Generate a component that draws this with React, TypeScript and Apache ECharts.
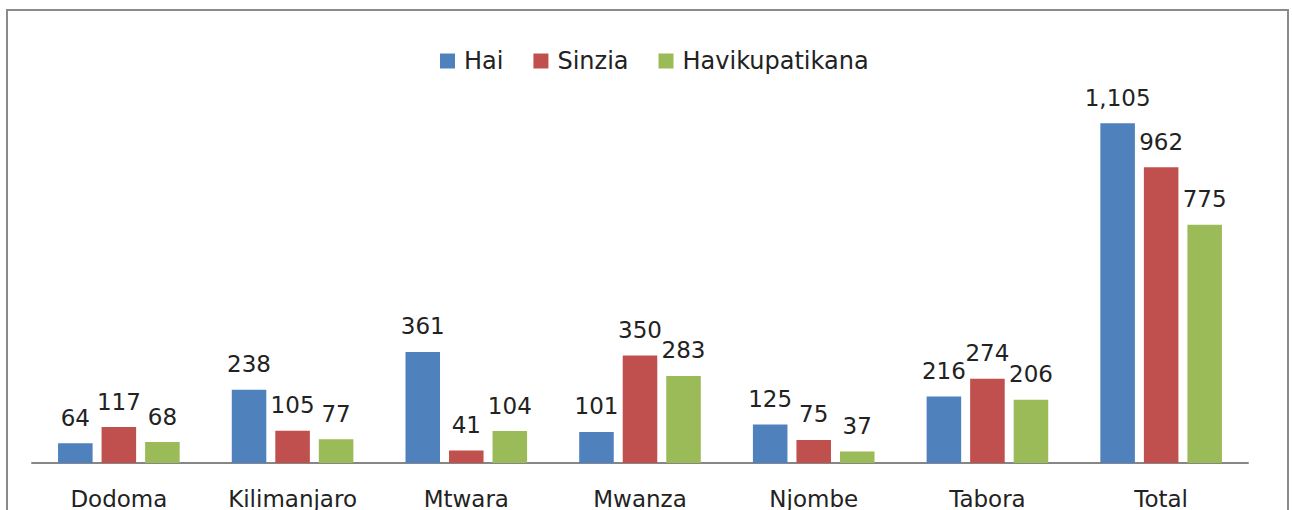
import React, { useEffect, useRef } from "react";
import * as echarts from "echarts";

const categories = ["Dodoma", "Kilimanjaro", "Mtwara", "Mwanza", "Njombe", "Tabora", "Total"];
const hai = [64, 238, 361, 101, 125, 216, 1105];
const sinzia = [117, 105, 41, 350, 75, 274, 962];
const havikupatikana = [68, 77, 104, 283, 37, 206, 775];
const seriesNames = ["Hai", "Sinzia", "Havikupatikana"];
const colors = ["#4F81BD", "#C0504D", "#9BBB59"];

const FONT = "'DejaVu Sans', 'Noto Sans', sans-serif";

export default function App() {
  const ref = useRef<HTMLDivElement>(null);
  useEffect(() => {
    if (!ref.current) return;
    const chart = echarts.init(ref.current, undefined, { renderer: "svg" });
    const values = [hai, sinzia, havikupatikana];
    chart.setOption({
      animation: false,
      backgroundColor: "#ffffff",
      textStyle: { fontFamily: FONT },
      legend: {
        top: 44,
        left: 435,
        itemWidth: 15,
        itemHeight: 15,
        itemGap: 30,
        icon: "rect",
        textStyle: { fontSize: 24, color: "#222", fontFamily: FONT, padding: [0, 0, 0, 4] },
        data: seriesNames,
      },
      grid: { left: 32, right: 44, top: 94, bottom: 47, containLabel: false },
      xAxis: {
        type: "category",
        data: categories,
        axisLine: { show: true, lineStyle: { color: "#868686", width: 2 } },
        axisTick: { show: false },
        axisLabel: { interval: 0, fontSize: 23, color: "#222", margin: 24, fontFamily: FONT },
      },
      yAxis: {
        type: "value",
        min: 0,
        max: 1200,
        show: false,
        splitLine: { show: false },
      },
      graphic: [
        {
          type: "polyline",
          shape: { points: [[7, 510], [7, 10], [1288, 10], [1288, 510]] },
          style: { fill: "none", stroke: "#8a8a8a", lineWidth: 2 },
          silent: true,
          z: 100,
        },
      ],
      series: seriesNames.map((name, i) => ({
        name,
        type: "bar",
        data: values[i],
        barGap: "26%",
        barCategoryGap: "30%",
        itemStyle: { color: colors[i] },
        label: {
          show: true,
          position: "top",
          distance: 14,
          fontSize: 23,
          color: "#222",
          fontFamily: FONT,
          formatter: (p: any) => Number(p.value).toLocaleString("en-US"),
        },
      })),
    });
    return () => chart.dispose();
  }, []);
  return (
    <div
      ref={ref}
      style={{ position: "fixed", left: 0, top: 0, width: 1292, height: 510 }}
    />
  );
}
